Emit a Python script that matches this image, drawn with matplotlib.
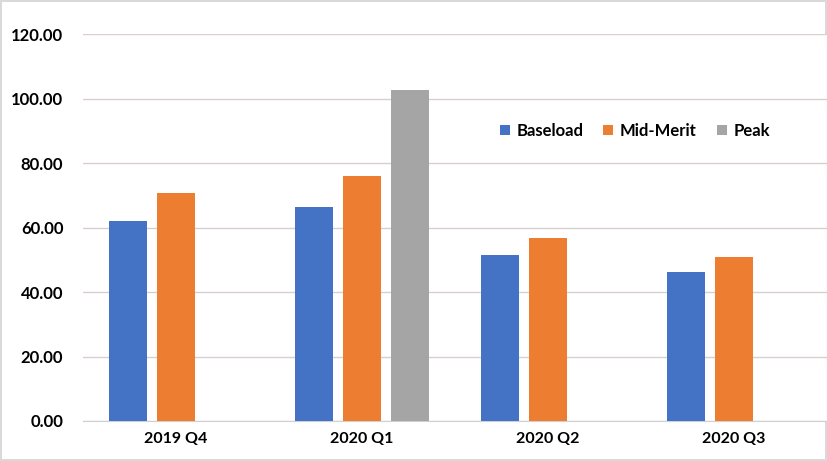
import matplotlib.pyplot as plt
import numpy as np

plt.rcParams['font.family'] = ['Lato', 'DejaVu Sans']

quarters = ['2019 Q4', '2020 Q1', '2020 Q2', '2020 Q3']
baseload = [62.0, 66.4, 51.5, 46.2]
mid_merit = [70.7, 76.0, 56.7, 50.9]
peak = [0, 102.6, 0, 0]

x = np.arange(len(quarters))
w = 0.205
off = 0.257

fig = plt.figure(figsize=(8.27, 4.61), dpi=100)
fig.patch.set_edgecolor('#d9d9d9')
fig.patch.set_linewidth(1.5)
ax = fig.add_axes([0.1, 0.0868, 0.9, 0.839])

ax.bar(x - off, baseload, w, color='#4472C4', label='Baseload', zorder=3)
ax.bar(x, mid_merit, w, color='#ED7D31', label='Mid-Merit', zorder=3)
ax.bar(x + off, peak, w, color='#A5A5A5', label='Peak', zorder=3)

ax.set_xlim(-0.5, 3.5)
ax.set_ylim(0, 120)
ax.set_yticks(np.arange(0, 121, 20))
ax.set_yticklabels(['%.2f' % v for v in np.arange(0, 121, 20)], fontweight='bold', fontsize=12)
ax.set_xticks(x)
ax.set_xticklabels(quarters, fontweight='bold', fontsize=11.5)
ax.tick_params(length=0)
ax.tick_params(axis='y', pad=14)
ax.tick_params(axis='x', pad=8)
ax.grid(axis='y', color='#d9d0cc', linewidth=1, zorder=0)
for s in ['top', 'right', 'left']:
    ax.spines[s].set_visible(False)
ax.spines['bottom'].set_color('#d0d0d0')

leg = ax.legend(loc='upper left', bbox_to_anchor=(0.54, 0.81), ncol=3, frameon=False,
                handlelength=0.6, handleheight=0.6, handletextpad=0.4, columnspacing=1.2,
                prop={'weight': 'bold', 'size': 12})

fig.savefig('out.png', dpi=100)
